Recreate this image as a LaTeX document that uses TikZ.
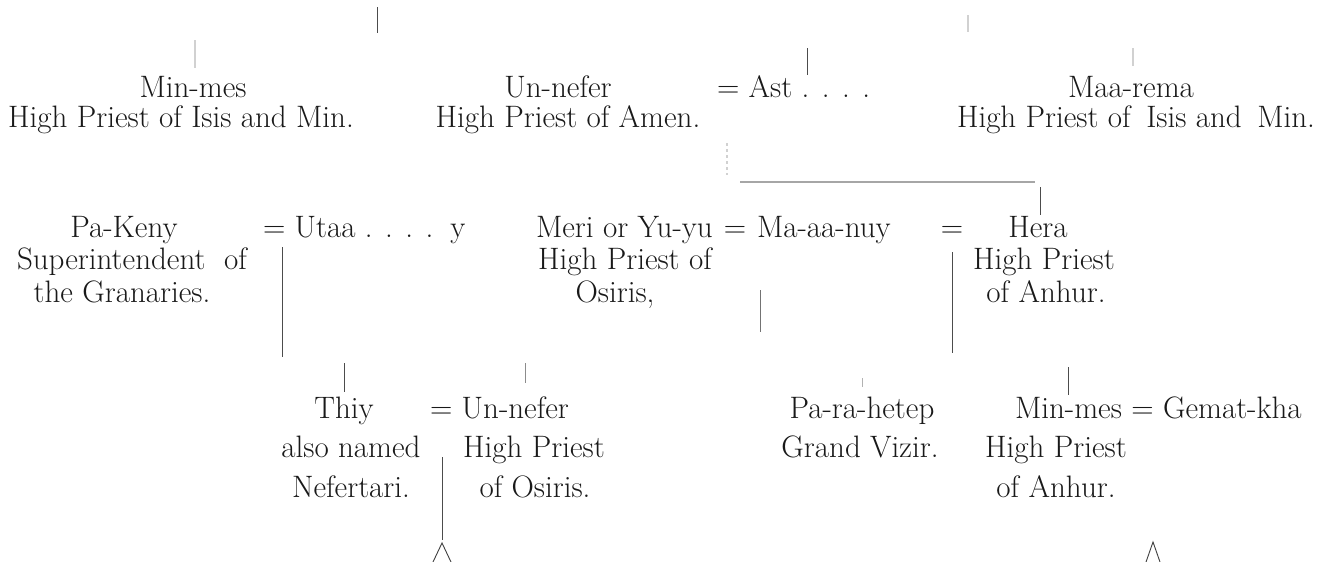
\documentclass[tikz,border=0pt]{standalone}
\usepackage{fontspec}
\begin{document}
\begin{tikzpicture}[x=1pt,y=-1pt,
  txt/.style={inner sep=0pt,outer sep=0pt,anchor=base,text=black!90,font=\fontsize{31}{37}\selectfont},
  txtl/.style={txt,anchor=base west},
  link/.style={draw=black!70,line width=0.9pt},
  faint/.style={draw=black!18,line width=1.6pt},
  tip/.style={draw=black!75,line width=0.9pt}]
\useasboundingbox[fill=white] (0,0) rectangle (1328,562);
% ---- row 1
\node[txt] (n1a) at (193,97) {Min-mes};
\node[txt] (t1a) at (181,127) {High Priest of Isis and Min.};
\node[txt] (n1b) at (558,97) {Un-nefer};
\node[txtl] (e1) at (717,97) {= Ast . . . .};
\node[txt] (t1b) at (568,127) {High Priest of Amen.};
\node[txt] (n1c) at (1131,97) {Maa-rema};
\node[txt] (t1c) at (1136,127) {High Priest of\hspace{0.2em} Isis and\hspace{0.2em} Min.};
% ---- row 2
\node[txt] (n2a) at (124,237) {Pa-Keny};
\node[txt] (t2a1) at (132,269) {Superintendent\hspace{0.3em} of};
\node[txt] (t2a2) at (122,302) {the Granaries.};
\node[txtl] (e2) at (263,237) {= Utaa . . . .};
\node[txt] (e2y) at (458,237) {y};
\node[txtl] (n2b) at (536,237) {Meri or Yu-yu};
\node[txt] (e3) at (735,237) {=};
\node[txtl] (n2c) at (757,237) {Ma-aa-nuy\hspace{0.05em}};
\node[txt] (e4) at (952,237) {=};
\node[txt] (n2d) at (1038,237) {Hera};
\node[txt] (t2b1) at (625,269) {High Priest of};
\node[txt] (t2b2) at (615,302) {Osiris,};
\node[txt] (t2d1) at (1044,269) {High Priest};
\node[txt] (t2d2) at (1046,302) {of Anhur.};
% ---- row 3
\node[txt] (n3a) at (344,418) {Thiy};
\node[txtl] (e5) at (430,418) {= Un-nefer};
\node[txt] (t3a1) at (351,457) {also named};
\node[txt] (t3a2) at (351,497) {Nefertari.};
\node[txt] (t3b1) at (534,457) {High Priest};
\node[txt] (t3b2) at (535,497) {of Osiris.};
\node[txt] (n3c) at (862,418) {Pa-ra-hetep};
\node[txt] (t3c) at (860,457) {Grand Vizir.};
\node[txtl] (n3d) at (1015,418) {Min-mes = Gemat-kha};
\node[txt] (t3d1) at (1056,457) {High Priest};
\node[txt] (t3d2) at (1056,497) {of Anhur.};
% ---- line end points
\coordinate (a1) at (377,7);   \coordinate (a2) at (377,33);
\coordinate (b1) at (807,48);  \coordinate (b2) at (807,75);
\coordinate (h1) at (740,182); \coordinate (h2) at (1035,182);
\coordinate (c1) at (1040,187);\coordinate (c2) at (1040,215);
\coordinate (d1) at (282,247); \coordinate (d2) at (282,357);
\coordinate (f1) at (760,290); \coordinate (f2) at (760,332);
\coordinate (g1) at (952,252); \coordinate (g2) at (952,353);
\coordinate (k1) at (344,363); \coordinate (k2) at (344,392);
\coordinate (m1) at (525,363); \coordinate (m2) at (525,383);
\coordinate (p1) at (442,457); \coordinate (p2) at (442,540);
\coordinate (q1) at (1068,367);\coordinate (q2) at (1068,395);
% ---- connectors
\draw[link] (a1) -- (a2);
\draw[link] (b1) -- (b2);
\draw[draw=black!35,line width=1.6pt] (h1) -- (h2);
\draw[link] (c1) -- (c2);
\draw[link,draw=black!55] (f1) -- (f2);
\draw[link] (d1) -- (d2);
\draw[link] (g1) -- (g2);
\draw[link] (k1) -- (k2);
\draw[link,draw=black!45] (m1) -- (m2);
\draw[link] (p1) -- (p2);
\draw[link] (q1) -- (q2);
% ---- faint marks
\coordinate (z1) at (195,40);  \coordinate (z2) at (195,68);
\coordinate (z3) at (1133,48); \coordinate (z4) at (1133,66);
\coordinate (z5) at (968,15);  \coordinate (z6) at (968,32);
\coordinate (z7) at (727,143); \coordinate (z8) at (727,175);
\coordinate (z9) at (862,378); \coordinate (z10) at (862,387);
\draw[faint] (z1) -- (z2);
\draw[faint] (z3) -- (z4);
\draw[faint] (z5) -- (z6);
\draw[faint,dashed] (z7) -- (z8);
\draw[faint,draw=black!30,line width=1pt] (z9) -- (z10);
% ---- continuation marks
\coordinate (r0) at (442,543);
\coordinate (s0) at (1153,542);
\draw[tip] ([xshift=-9pt,yshift=-19pt]r0) -- (r0) -- ([xshift=9pt,yshift=-19pt]r0);
\draw[tip] ([xshift=-7pt,yshift=-20pt]s0) -- (s0) -- ([xshift=7pt,yshift=-20pt]s0);
\end{tikzpicture}
\end{document}
